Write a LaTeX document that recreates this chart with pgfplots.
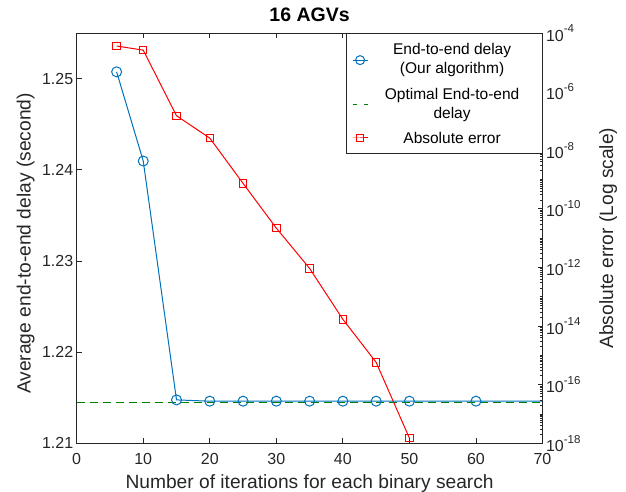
\documentclass[border=0pt]{standalone}
\usepackage{fontspec}
\setmainfont{Liberation Sans}
\usepackage{pgfplots}
\pgfplotsset{compat=1.18}
\definecolor{mblue}{rgb}{0,0.447,0.741}
\definecolor{mgreen}{rgb}{0,0.5,0}
\definecolor{axgray}{rgb}{0.15,0.15,0.15}
\newcommand\tickfont{\fontsize{16}{19}\selectfont}
\newcommand\labfont{\fontsize{19.2}{22}\selectfont}
\newcommand\legfont{\fontsize{15.5}{19}\selectfont}
\newcommand\sups[1]{\raisebox{8.3pt}{\fontsize{11.5}{12}\selectfont #1}}
\newcommand\legtext[1]{\parbox{168pt}{\legfont\centering #1}}
% minor ticks of the log axis, 1..9 per decade
\def\minorlist{}%
\foreach \e in {-18,...,-5}{\foreach \m in {1,...,9}{\xdef\minorlist{\minorlist\m e\e,}}}%
\pgfplotsset{
  matstyle/.style={
    scale only axis, width=465.8pt, height=410.3pt,
    at={(0,0)}, anchor=south west,
    xmin=0, xmax=70,
    axis line style={axgray, line width=0.8pt},
    tick style={axgray, line width=0.8pt},
    major tick length=5pt, minor tick length=3pt,
    tick label style={font=\tickfont, text=axgray},
    /pgf/number format/assume math mode=true,
    clip marker paths=true,
  }
}
\begin{document}
\begin{tikzpicture}
\begin{axis}[matstyle,
  ymin=1.21, ymax=1.255,
  ytick={1.21,1.22,1.23,1.24,1.25},
  scaled y ticks=false,
  yticklabel style={/pgf/number format/fixed, /pgf/number format/precision=2, /pgf/number format/fixed zerofill},
  ytick pos=left,
  xtick={0,10,...,70}, xtick pos=both,
  xticklabel style={yshift=-6pt},
  xlabel={Number of iterations for each binary search},
  xlabel style={font=\labfont, text=axgray, at={(axis description cs:0.5,-0.109)}, anchor=base},
  ylabel={Average end-to-end delay (second)},
  ylabel style={font=\labfont, text=axgray, rotate=0, at={(axis description cs:-0.0988,0.487)}, anchor=base},
  title={16 AGVs},
  title style={font=\bfseries\fontsize{19.5}{22}\selectfont, at={(axis description cs:0.5,1)}, anchor=base, yshift=5.7pt},
]
\addplot[mgreen, line width=1pt, dash pattern=on 8pt off 5pt] coordinates {(0,1.21446) (70,1.21446)};
\addplot[mblue, line width=1pt, mark=o, mark size=5pt] coordinates {
  (6,1.25074) (10,1.24096) (15,1.21476) (20,1.21462) (25,1.21462) (30,1.21462)
  (35,1.21462) (40,1.21462) (45,1.21462) (50,1.21462) (60,1.21462) (80,1.21462)};
\node[anchor=base west, inner sep=0pt, font=\fontsize{19.5}{22}\selectfont, text=axgray, xshift=1.6pt, yshift=3.7pt]
  at (axis description cs:0,1) {×10\raisebox{8pt}{\fontsize{13}{14}\selectfont -3}};
\end{axis}
\begin{axis}[matstyle,
  ymode=log, ymin=1e-18, ymax=1e-4,
  hide x axis,
  ytick={1e-18,1e-16,1e-14,1e-12,1e-10,1e-8,1e-6,1e-4},
  yticklabels={10\sups{-18},10\sups{-16},10\sups{-14},10\sups{-12},10\sups{-10},10\sups{-8},10\sups{-6},10\sups{-4}},
  minor ytick/.expanded={\minorlist 1e-4},
  ytick pos=right, yticklabel pos=right,
  ylabel={Absolute error (Log scale)},
  ylabel style={font=\labfont, text=axgray, rotate=0, at={(axis description cs:1.1514,0.5)}, anchor=base},
  legend style={at={(axis description cs:1,1)}, anchor=north east, draw=axgray, line width=0.8pt,
    font=\legfont, text=black, inner xsep=6pt, inner ysep=10pt, row sep=11pt, column sep=0pt,
    nodes={inner sep=0pt, text depth=}},
  legend cell align=center,
  legend image code/.code={\draw[mark repeat=2,mark phase=2,#1] plot coordinates {(0pt,0pt) (7.5pt,0pt) (15pt,0pt)};},
]
\addlegendimage{mblue, line width=1pt, mark=o, mark size=4.5pt}
\addlegendentry{\legtext{End-to-end delay\\(Our algorithm)}}
\addlegendimage{mgreen, line width=1pt, dash pattern=on 4pt off 7pt}
\addlegendentry{\legtext{Optimal End-to-end\\delay}}
\addplot[red, line width=1pt, mark=square, mark size=3.7pt] coordinates {
  (6,3.6e-5) (10,2.6e-5) (15,1.5e-7) (20,2.6e-8) (25,7.4e-10)
  (30,2.2e-11) (35,9.3e-13) (40,1.7e-14) (45,5.8e-16) (50,1.5e-18)};
\addlegendentry{\legtext{Absolute error}}
\end{axis}
\pgfresetboundingbox
\path (-76.7pt,-47.7pt) rectangle (549.3pt,443.3pt);
\end{tikzpicture}
\end{document}
